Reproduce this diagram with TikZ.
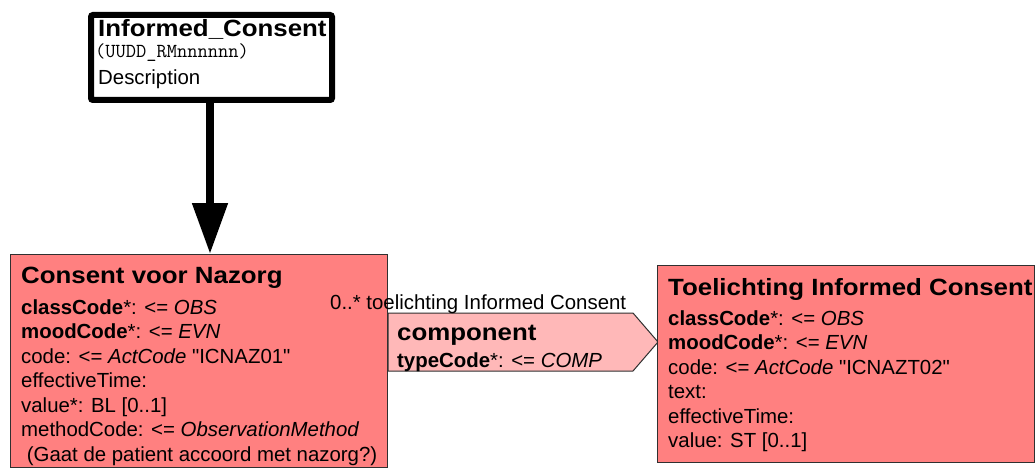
\documentclass[tikz,border=0pt]{standalone}
\usepackage{fontspec}
\setmainfont{Liberation Sans}
\newfontfamily\titlefont{Liberation Sans Bold}[FakeStretch=1.1]
\usetikzlibrary{arrows.meta}
\definecolor{actred}{HTML}{FF8080}
\definecolor{linkpink}{HTML}{FFB8B8}
\definecolor{edgegray}{HTML}{303030}
\newcommand{\qq}{\textquotedbl}
\begin{document}
\begin{tikzpicture}[x=1pt,y=-1pt,
  txt/.style={inner sep=0pt,anchor=base west,font=\fontsize{20.4}{24}\selectfont},
  ttl/.style={inner sep=0pt,anchor=base west,font=\fontsize{23.5}{28}\selectfont\titlefont},
  mono/.style={inner sep=0pt,anchor=base west,font=\fontsize{19.9}{22}\selectfont\ttfamily},
  actbox/.style={draw=edgegray,line width=1pt,fill=actred,inner sep=0pt,anchor=north west},
  entrybox/.style={draw=black,line width=6pt,fill=white,rounded corners=2pt,inner sep=0pt,anchor=north west},
  linkshape/.style={draw=edgegray,line width=1pt,fill=linkpink},
  bigarrow/.style={line width=8pt,-{Triangle[width=34pt,length=51pt]}}]
\useasboundingbox (0,0) rectangle (1035,468);
\fill[white] (0,0) rectangle (1035,468);

% entry point box
\node[entrybox,minimum width=241pt,minimum height=85pt] (top) at (88,12) {};
\node[ttl] (topt) at (98,37) {Informed\_Consent};
\node[mono] (topid) at (95,58) {(UUDD\_RMnnnnnn)};
\node[txt] (topd) at (98,85) {Description};

% left act box
\node[actbox,minimum width=377pt,minimum height=213pt] (L) at (10,254) {};
\node[ttl] (Lt) at (21,283) {Consent voor Nazorg};
\node[txt] (L1) at (21,314) {\textbf{classCode}*: <= \textit{OBS}};
\node[txt] (L2) at (21,338) {\textbf{moodCode}*: <= \textit{EVN}};
\node[txt] (L3) at (21,363) {code: <= \textit{ActCode} \qq ICNAZ01\qq};
\node[txt] (L4) at (21,387) {effectiveTime:};
\node[txt] (L5) at (21,412) {value*: BL [0..1]};
\node[txt] (L6) at (21,436) {methodCode: <= \textit{ObservationMethod}};
\node[txt] (L7) at (21,461) {\ (Gaat de patient accoord met nazorg?)};

% arrow from entry to act
\coordinate (ax) at (210,0);
\draw[bigarrow] (top.south -| ax) -- (L.north -| ax);

% component link shape
\draw[linkshape] (L.east |- 0,313) -- (633,313) -- (658,342) -- (633,371) -- (L.east |- 0,371) -- cycle;
\node[ttl] (ct) at (397,340) {component};
\node[txt] (c1) at (397,367) {\textbf{typeCode}*: <= \textit{COMP}};
\node[txt] (cl) at (330,309) {0..* toelichting Informed Consent};

% right act box
\node[actbox,minimum width=377pt,minimum height=197pt] (R) at (657,265) {};
\node[ttl] (Rt) at (668,295) {Toelichting Informed Consent};
\node[txt] (R1) at (668,325) {\textbf{classCode}*: <= \textit{OBS}};
\node[txt] (R2) at (668,349.5) {\textbf{moodCode}*: <= \textit{EVN}};
\node[txt] (R3) at (668,374) {code: <= \textit{ActCode} \qq ICNAZT02\qq};
\node[txt] (R4) at (668,398.5) {text:};
\node[txt] (R5) at (668,423) {effectiveTime:};
\node[txt] (R6) at (668,447.5) {value: ST [0..1]};
\end{tikzpicture}
\end{document}
